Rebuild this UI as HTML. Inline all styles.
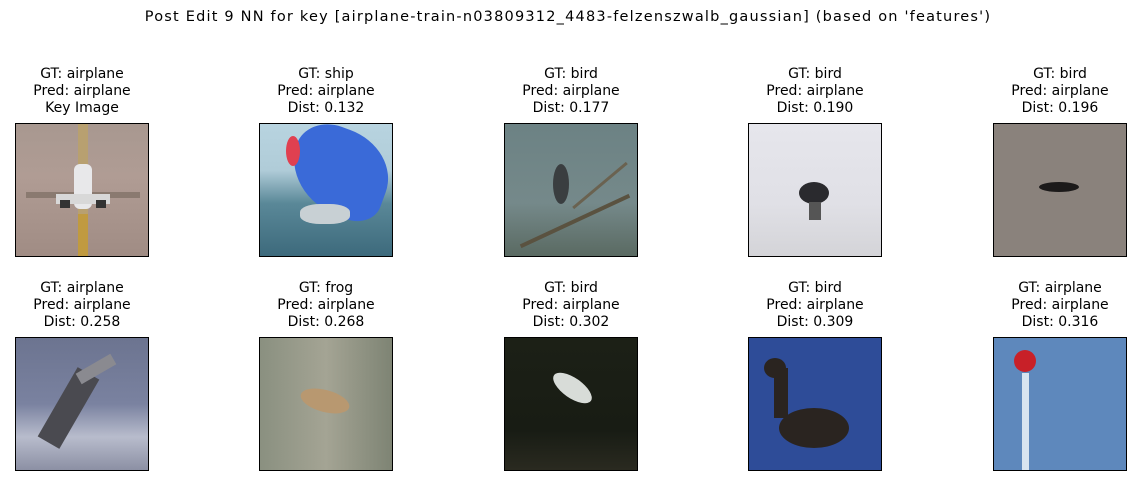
<!DOCTYPE html>
<html><head><meta charset="utf-8"><style>
body{margin:0;width:1136px;height:486px;background:#fff;position:relative;overflow:hidden;font-family:"DejaVu Sans","Liberation Sans",sans-serif;color:#000}
.t{position:absolute;width:240px;text-align:center;font-size:14px;line-height:17px}
.im{position:absolute;width:134px;height:134px;border:1px solid #000;overflow:hidden;box-sizing:border-box}
.im div{position:absolute}
#sup{position:absolute;top:9px;left:0;width:1136px;text-align:center;font-size:14.5px;letter-spacing:1.2px}
</style></head><body>
<div id="sup">Post Edit 9 NN for key [airplane-train-n03809312_4483-felzenszwalb_gaussian] (based on 'features')</div>

<div class="t" style="left:-38px;top:66px">GT: airplane<br>Pred: airplane<br>Key Image</div>
<div class="im" style="left:15px;top:123px;background:linear-gradient(#a89890,#b09c94 40%,#a08c84)">
<div style="left:62px;top:0;width:10px;height:134px;background:#b8a070"></div>
<div style="left:62px;top:90px;width:10px;height:44px;background:#c09a40"></div>
<div style="left:10px;top:68px;width:114px;height:6px;background:#8a7a70"></div>
<div style="left:58px;top:40px;width:18px;height:45px;background:#e8e8ea;border-radius:6px"></div>
<div style="left:40px;top:70px;width:54px;height:10px;background:#d8d8d8"></div>
<div style="left:44px;top:76px;width:10px;height:8px;background:#333"></div>
<div style="left:80px;top:76px;width:10px;height:8px;background:#333"></div>
</div>

<div class="t" style="left:206px;top:66px">GT: ship<br>Pred: airplane<br>Dist: 0.132</div>
<div class="im" style="left:259px;top:123px;background:linear-gradient(#b8d4e0,#b0ccd8 35%,#5a8898 60%,#3d6a7c)">
<div style="left:30px;top:5px;width:100px;height:85px;background:#3a6ad8;border-radius:40% 60% 30% 70%;transform:rotate(20deg)"></div>
<div style="left:26px;top:12px;width:14px;height:30px;background:#e04050;border-radius:50%"></div>
<div style="left:40px;top:80px;width:50px;height:20px;background:#c8d0d4;border-radius:40%"></div>
</div>

<div class="t" style="left:451px;top:66px">GT: bird<br>Pred: airplane<br>Dist: 0.177</div>
<div class="im" style="left:504px;top:123px;background:linear-gradient(#6c8284,#75898a 60%,#5a6a62)">
<div style="left:10px;top:95px;width:120px;height:4px;background:#5a5240;transform:rotate(-25deg)"></div>
<div style="left:60px;top:60px;width:70px;height:3px;background:#6a6250;transform:rotate(-40deg)"></div>
<div style="left:48px;top:40px;width:16px;height:40px;background:#3a3e40;border-radius:50%"></div>
</div>

<div class="t" style="left:695px;top:66px">GT: bird<br>Pred: airplane<br>Dist: 0.190</div>
<div class="im" style="left:748px;top:123px;background:linear-gradient(#e6e6ec,#e0e0e6 60%,#d4d4d8)">
<div style="left:50px;top:58px;width:30px;height:22px;background:#2a2a2e;border-radius:50%"></div>
<div style="left:60px;top:78px;width:12px;height:18px;background:#555"></div>
</div>

<div class="t" style="left:940px;top:66px">GT: bird<br>Pred: airplane<br>Dist: 0.196</div>
<div class="im" style="left:993px;top:123px;background:#8a827c">
<div style="left:45px;top:58px;width:40px;height:10px;background:#1c1a1a;border-radius:50%"></div>
</div>

<div class="t" style="left:-38px;top:280px">GT: airplane<br>Pred: airplane<br>Dist: 0.258</div>
<div class="im" style="left:15px;top:337px;background:linear-gradient(#6c7490,#7a82a0 50%,#b8bccc 75%,#8c90a4)">
<div style="left:40px;top:30px;width:25px;height:80px;background:#4a4a50;transform:rotate(30deg)"></div>
<div style="left:60px;top:25px;width:40px;height:12px;background:#8a8a90;transform:rotate(-30deg)"></div>
</div>

<div class="t" style="left:206px;top:280px">GT: frog<br>Pred: airplane<br>Dist: 0.268</div>
<div class="im" style="left:259px;top:337px;background:linear-gradient(90deg,#8a9080,#a4a494 50%,#7e8474)">
<div style="left:40px;top:52px;width:50px;height:22px;background:#b89870;border-radius:50%;transform:rotate(15deg)"></div>
</div>

<div class="t" style="left:451px;top:280px">GT: bird<br>Pred: airplane<br>Dist: 0.302</div>
<div class="im" style="left:504px;top:337px;background:linear-gradient(#1c2016,#181c14 70%,#2a2a20)">
<div style="left:45px;top:40px;width:45px;height:20px;background:#d8dcd8;border-radius:50%;transform:rotate(35deg)"></div>
</div>

<div class="t" style="left:695px;top:280px">GT: bird<br>Pred: airplane<br>Dist: 0.309</div>
<div class="im" style="left:748px;top:337px;background:#2e4c98">
<div style="left:15px;top:20px;width:22px;height:20px;background:#2a2420;border-radius:50%"></div>
<div style="left:25px;top:30px;width:14px;height:50px;background:#2a2420"></div>
<div style="left:30px;top:70px;width:70px;height:40px;background:#2a2420;border-radius:50%"></div>
</div>

<div class="t" style="left:940px;top:280px">GT: airplane<br>Pred: airplane<br>Dist: 0.316</div>
<div class="im" style="left:993px;top:337px;background:#5e88bc">
<div style="left:20px;top:12px;width:22px;height:22px;background:#c82028;border-radius:50%"></div>
<div style="left:28px;top:35px;width:7px;height:99px;background:#d8e4f0"></div>
</div>
</body></html>
